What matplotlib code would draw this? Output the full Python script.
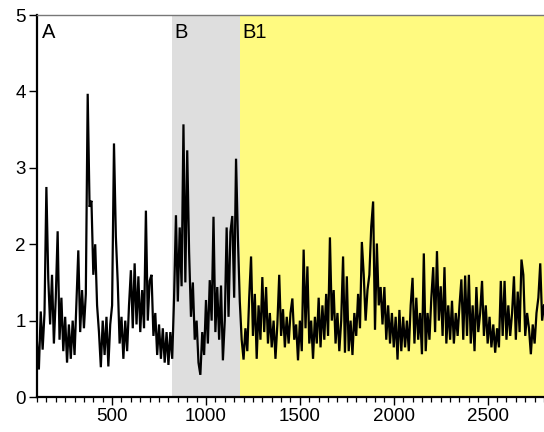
import numpy as np
import matplotlib

matplotlib.use("Agg")
import matplotlib.pyplot as plt
from matplotlib.ticker import MultipleLocator

# signal, one value every 10 units from 100 to 2800
x_start = 100
x_step = 10
signal = [
    # 100
    0.72, 0.36, 1.12, 0.62, 1.10, 2.75, 1.55, 0.95, 1.60, 0.70,
    # 200
    1.30, 2.17, 0.75, 1.30, 0.60, 1.05, 0.45, 0.95, 0.50, 1.00,
    # 300
    0.55, 1.25, 1.92, 0.85, 1.40, 0.90, 1.35, 3.97, 2.49, 2.57,
    # 400
    1.60, 2.00, 1.20, 0.85, 0.39, 1.00, 0.55, 1.05, 0.40, 0.95,
    # 500
    1.20, 3.32, 2.10, 1.50, 0.70, 1.05, 0.50, 1.00, 0.60, 1.20,
    # 600
    1.66, 0.90, 1.75, 0.95, 1.58, 0.85, 1.40, 0.90, 2.44, 1.00,
    # 700
    1.52, 1.60, 0.80, 1.10, 0.55, 0.95, 0.50, 0.90, 0.45, 0.85,
    # 800
    0.42, 0.85, 0.50, 1.30, 2.38, 1.25, 2.22, 1.45, 3.57, 1.50,
    # 900
    3.23, 1.90, 1.05, 1.50, 0.75, 1.00, 0.45, 0.29, 0.85, 0.55,
    # 1000
    1.27, 0.70, 1.53, 1.00, 2.36, 0.85, 1.44, 0.75, 1.46, 0.48,
    # 1100
    1.00, 2.22, 1.05, 2.16, 2.37, 1.30, 3.12, 2.07, 1.25, 0.75,
    # 1200
    0.49, 0.90, 0.60, 1.30, 1.84, 0.80, 1.35, 0.50, 1.20, 0.75,
    # 1300
    1.57, 0.85, 1.44, 0.70, 1.10, 0.65, 1.00, 0.50, 0.95, 1.60,
    # 1400
    0.80, 1.15, 0.65, 1.05, 0.70, 1.10, 1.29, 0.75, 0.95, 0.48,
    # 1500
    1.00, 0.60, 1.93, 0.90, 1.71, 0.70, 1.00, 0.50, 1.05, 0.70,
    # 1600
    1.30, 0.65, 1.20, 0.75, 1.35, 0.80, 2.09, 1.00, 1.40, 0.70,
    # 1700
    1.10, 0.60, 1.00, 1.84, 0.58, 1.58, 0.60, 1.00, 0.55, 1.10,
    # 1800
    0.80, 1.35, 0.90, 2.03, 1.60, 1.00, 1.40, 1.60, 2.23, 2.56,
    # 1900
    0.88, 2.01, 1.20, 1.44, 0.95, 1.44, 0.75, 1.20, 0.70, 1.10,
    # 2000
    0.65, 1.05, 0.49, 1.14, 0.60, 1.05, 0.65, 1.00, 0.60, 1.20,
    # 2100
    1.56, 0.70, 1.30, 0.75, 1.10, 0.56, 1.88, 0.60, 1.10, 0.75,
    # 2200
    1.30, 1.70, 0.85, 1.91, 1.00, 1.45, 0.80, 1.70, 0.70, 1.20,
    # 2300
    0.75, 1.26, 0.70, 1.10, 0.80, 1.20, 1.54, 0.75, 1.59, 0.80,
    # 2400
    1.60, 0.70, 1.20, 0.60, 1.44, 0.85, 1.10, 1.52, 0.80, 1.20,
    # 2500
    0.70, 1.05, 0.65, 0.95, 0.58, 0.90, 0.65, 1.52, 0.80, 1.52,
    # 2600
    0.75, 1.20, 0.80, 1.10, 1.58, 0.75, 1.38, 0.85, 1.80, 1.60,
    # 2700
    0.80, 1.10, 0.90, 0.56, 0.95, 0.70, 1.10, 1.30, 1.75, 1.00,
    # 2800
    1.20,
]

# shaded phases
phase_labels = ["A", "B", "B1"]
phase_starts = [100, 820, 1180]
phase_ends = [820, 1180, 2800]
phase_colors = ["#ffffff", "#dedede", "#fffa80"]
label_x = [128, 834, 1196]

x = x_start + x_step * np.arange(len(signal))

fig = plt.figure(figsize=(5.44, 4.32), dpi=100)
ax = fig.add_axes([0.068, 0.081, 0.932, 0.884])

for start, end, color in zip(phase_starts, phase_ends, phase_colors):
    ax.axvspan(start, end, color=color, lw=0, zorder=0)

ax.plot(x, signal, color="black", lw=1.6, solid_joinstyle="miter", zorder=2)

for name, lx in zip(phase_labels, label_x):
    ax.text(lx, 4.70, name, fontsize=14.5, family="Liberation Sans",
            va="baseline", ha="left", zorder=3)

ax.set_xlim(100, 2800)
ax.set_ylim(0, 5)
ax.xaxis.set_major_locator(MultipleLocator(500))
ax.xaxis.set_minor_locator(MultipleLocator(50))
ax.yaxis.set_major_locator(MultipleLocator(1))

ax.spines["right"].set_visible(False)
ax.spines["top"].set_color("#777777")
ax.spines["top"].set_linewidth(1.0)
ax.spines["left"].set_linewidth(1.6)
ax.spines["bottom"].set_linewidth(1.6)

ax.tick_params(axis="both", which="major", direction="out", length=6,
               width=1.0, labelsize=13.5, pad=2)
ax.tick_params(axis="x", which="minor", direction="out", length=3.5, width=0.9)
for lab in ax.get_xticklabels() + ax.get_yticklabels():
    lab.set_family("Liberation Sans")

fig.savefig("out.png", dpi=100)
